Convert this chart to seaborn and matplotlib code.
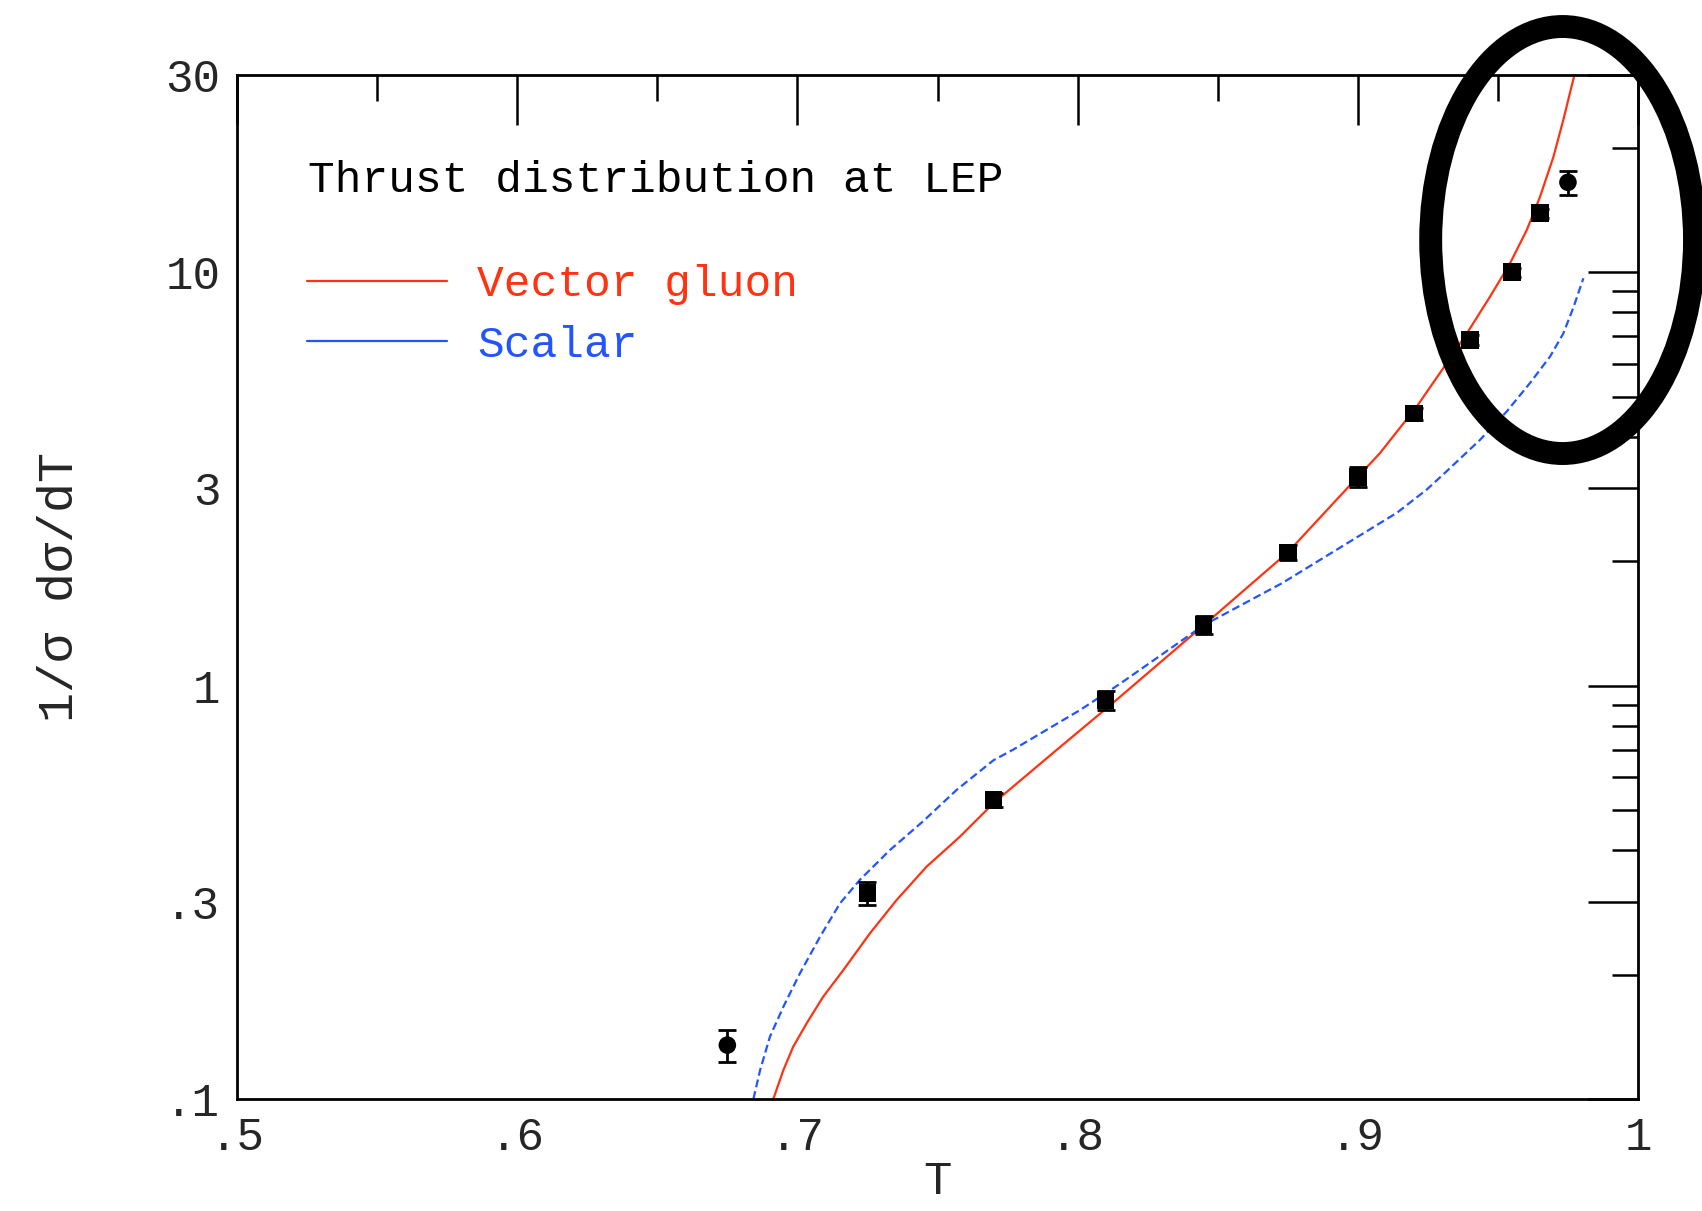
import numpy as np
import pandas as pd
import matplotlib.pyplot as plt
import matplotlib.ticker as mticker
from matplotlib.lines import Line2D
from matplotlib.patches import Ellipse
import seaborn as sns

# Theory curves
vector_T = [0.6914, 0.6950, 0.6985, 0.7033, 0.7092, 0.7164, 0.7259, 0.7354, 0.7461,
            0.7580, 0.7699, 0.7912, 0.8126, 0.845, 0.875, 0.900, 0.9079, 0.9210,
            0.9317, 0.9389, 0.9472, 0.9543, 0.9603, 0.9650, 0.9698, 0.9733, 0.9773]
vector_y = [0.100, 0.1175, 0.1338, 0.1524, 0.1768, 0.2051, 0.2517, 0.3029, 0.3648,
            0.4311, 0.519, 0.687, 0.908, 1.40, 2.10, 3.20, 3.65, 4.73,
            6.02, 7.11, 8.73, 10.5, 12.65, 15.2, 19.0, 23.3, 30.0]

scalar_T = [0.6843, 0.6867, 0.6902, 0.6950, 0.7009, 0.7081, 0.7152, 0.7223, 0.7330,
            0.7449, 0.7569, 0.7700, 0.7770, 0.8009, 0.8151, 0.845, 0.873, 0.914,
            0.9246, 0.9317, 0.9436, 0.9531, 0.9615, 0.9686, 0.9733, 0.9769, 0.9805]
scalar_y = [0.100, 0.1175, 0.1415, 0.1672, 0.2014, 0.247, 0.2974, 0.339, 0.400,
            0.47, 0.56, 0.66, 0.70, 0.873, 1.01, 1.40, 1.77, 2.62,
            2.98, 3.30, 3.93, 4.60, 5.40, 6.25, 7.10, 8.20, 9.67]

# LEP data points
data_T = [0.675, 0.725, 0.770, 0.810, 0.845, 0.875, 0.900, 0.920, 0.940, 0.955, 0.965, 0.975]
data_y = [0.135, 0.315, 0.529, 0.923, 1.40, 2.10, 3.20, 4.55, 6.86, 10.0, 13.9, 16.5]
data_err = [0.012, 0.020, 0.020, 0.050, 0.07, 0.09, 0.17, 0.15, 0.18, 0.25, 0.35, 1.1]
data_shape = ["circle"] + ["square"] * 10 + ["circle"]

x_ticks = [0.5, 0.6, 0.7, 0.8, 0.9, 1.0]
x_labels = [".5", ".6", ".7", ".8", ".9", "1"]
y_ticks = [0.1, 0.3, 1, 3, 10, 30]
y_labels = [".1", ".3", "1", "3", "10", "30"]

RED = "#ff3311"
BLUE = "#2255ff"

sns.set_style("white")
plt.rcParams['font.family'] = ['Liberation Mono', 'DejaVu Sans']

fig = plt.figure(figsize=(17.02, 12.11), dpi=100)
ax = fig.add_axes([0.13925, 0.09249, 0.82315, 0.84558])
ax.set_yscale("log")

sns.lineplot(x=vector_T, y=vector_y, ax=ax, color=RED, lw=1.6, estimator=None)
sns.lineplot(x=scalar_T, y=scalar_y, ax=ax, color=BLUE, lw=1.6, estimator=None,
             linestyle=(0, (3.6, 1.8)))

df = pd.DataFrame({"T": data_T, "y": data_y, "shape": data_shape})
ax.errorbar(data_T, data_y, yerr=data_err, fmt="none", ecolor="black",
            elinewidth=2, capsize=6.8, capthick=2, zorder=3)
sns.scatterplot(data=df, x="T", y="y", style="shape",
                markers={"circle": "o", "square": "s"}, s=160,
                color="black", edgecolor="black", linewidth=0, legend=False,
                ax=ax, zorder=4)

ax.set_xlim(0.5, 1.0)
ax.set_ylim(0.1, 30)

ax.xaxis.set_major_locator(mticker.FixedLocator(x_ticks))
ax.xaxis.set_major_formatter(mticker.FixedFormatter(x_labels))
ax.xaxis.set_minor_locator(mticker.FixedLocator([0.55, 0.65, 0.75, 0.85, 0.95]))
ax.xaxis.set_minor_formatter(mticker.NullFormatter())
minor_y = [0.2, 0.4, 0.5, 0.6, 0.7, 0.8, 0.9, 2, 4, 5, 6, 7, 8, 9, 20]
ax.yaxis.set_major_locator(mticker.FixedLocator(y_ticks))
ax.yaxis.set_major_formatter(mticker.FixedFormatter(y_labels))
ax.yaxis.set_minor_locator(mticker.FixedLocator(minor_y))
ax.yaxis.set_minor_formatter(mticker.NullFormatter())

ax.tick_params(which="both", direction="in", top=True, right=True,
               width=1.8, color="black", labelsize=33, pad=12)
ax.tick_params(which="major", length=36)
ax.tick_params(which="minor", length=19)
for sp in ax.spines.values():
    sp.set_linewidth(2)
    sp.set_color("black")

ax.set_xlabel("T", fontsize=34, va="baseline")
ax.xaxis.set_label_coords(0.5, -0.093)
ax.set_ylabel("1/σ dσ/dT", fontsize=36)
ax.yaxis.set_label_coords(-0.11, 0.5)

ax.text(0.0507, 0.8857, "Thrust distribution at LEP", transform=ax.transAxes,
        fontsize=32, va="baseline", ha="left", color="black")

handles = [Line2D([], [], color=RED, lw=1.6), Line2D([], [], color=BLUE, lw=1.6)]
ax.legend(handles, ["Vector gluon", "Scalar"], loc="upper left",
          bbox_to_anchor=(0.05, 0.815), frameon=False, fontsize=32,
          labelcolor=[RED, BLUE], handlelength=3.15, handletextpad=0.68,
          borderpad=0, borderaxespad=0, labelspacing=0.43)

# highlight ring around the high-T region
ring = Ellipse((0.9181, 0.8018), 0.155, 0.3526, transform=fig.transFigure,
               fill=False, edgecolor="black", lw=16.5, clip_on=False, zorder=10)
fig.patches.append(ring)

fig.savefig("out.png", dpi=100)
